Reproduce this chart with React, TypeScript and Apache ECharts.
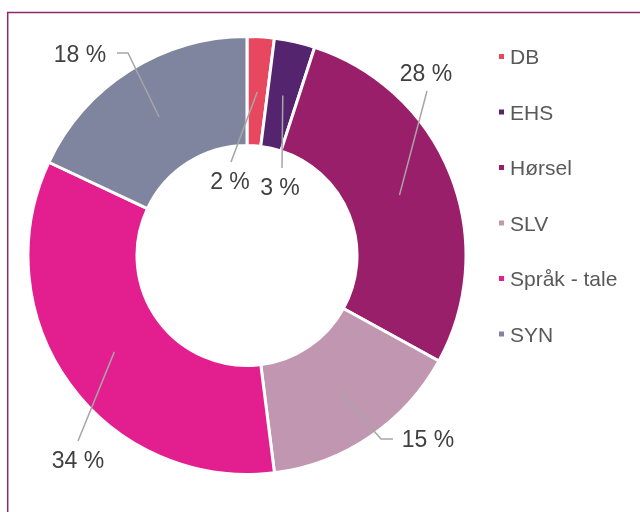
import React, { useEffect, useRef } from "react";
import * as echarts from "echarts";

// ---- data ----
const categories = ["DB", "EHS", "Hørsel", "SLV", "Språk - tale", "SYN"];
const values = [2, 3, 28, 15, 34, 18];
const colors = ["#E8485F", "#55246E", "#9A1F6A", "#C196B1", "#E31E8F", "#7F859F"];

// ---- layout (pixels) ----
const CX = 247;
const CY = 255.5;
const R_IN = 110;
const R_OUT = 219;
const R_LINE = 164;
// label text centres
const labelCenters = [
  [230, 181],
  [280, 187],
  [426, 73],
  [428, 439],
  [78, 460],
  [80, 54],
];
// leader-line points after the start point (inside the slice)
const lineBends = [
  [[231, 162]],
  [[282, 168]],
  [[427, 91]],
  [[381, 439], [393, 439]],
  [[78, 441]],
  [[128, 53], [117, 53]],
];

export default function App() {
  const ref = useRef<HTMLDivElement>(null);
  useEffect(() => {
    if (!ref.current) return;
    const chart = echarts.init(ref.current, undefined, { renderer: "svg" });
    const total = values.reduce((a, b) => a + b, 0);
    const cum: number[] = [];
    let acc = 0;
    values.forEach((v) => {
      cum.push(acc + v / 2);
      acc += v;
    });
    const data = categories.map((c, i) => ({ name: c, value: values[i] }));
    chart.setOption({
      animation: false,
      color: colors,
      graphic: [
        {
          type: "rect",
          shape: { x: 7.7, y: 12.5, width: 700, height: 600 },
          style: { fill: "none", stroke: "#8B2A6B", lineWidth: 1.5 },
          silent: true,
        },
      ],
      legend: {
        orient: "vertical",
        left: 492,
        top: 41,
        itemWidth: 7,
        itemHeight: 7,
        itemGap: 34.5,
        icon: "rect",
        data: categories,
        textStyle: { fontSize: 21, color: "#595959", fontFamily: "Liberation Sans" },
      },
      series: [
        {
          type: "pie",
          z: 2,
          center: [CX, CY],
          radius: [R_IN, R_OUT],
          startAngle: 90,
          clockwise: true,
          itemStyle: { borderColor: "#ffffff", borderWidth: 3 },
          emphasis: { disabled: true },
          label: { show: false },
          labelLine: { show: false },
          data,
        },
        {
          type: "pie",
          z: 5,
          silent: true,
          center: [CX, CY],
          radius: [R_IN, R_OUT],
          startAngle: 90,
          clockwise: true,
          avoidLabelOverlap: false,
          itemStyle: { color: "rgba(0,0,0,0)", borderWidth: 0 },
          emphasis: { disabled: true },
          label: {
            show: true,
            position: "outside",
            formatter: (p: any) => p.value + " %",
            fontSize: 23,
            color: "#404040",
            fontFamily: "Liberation Sans",
          },
          labelLine: {
            show: true,
            length: 10,
            length2: 10,
            lineStyle: { color: "#A6A6A6", width: 1.5 },
          },
          labelLayout: (params: any) => {
            const i = params.dataIndex;
            const th = (cum[i] / total) * Math.PI * 2;
            const start = [CX + R_LINE * Math.sin(th), CY - R_LINE * Math.cos(th)];
            return {
              x: labelCenters[i][0],
              y: labelCenters[i][1],
              align: "center",
              verticalAlign: "middle",
              labelLinePoints: [start, ...lineBends[i]],
            };
          },
          data,
        },
      ],
    });
    return () => chart.dispose();
  }, []);
  return (
    <div
      ref={ref}
      style={{ position: "fixed", left: 0, top: 0, width: 640, height: 512 }}
    />
  );
}
